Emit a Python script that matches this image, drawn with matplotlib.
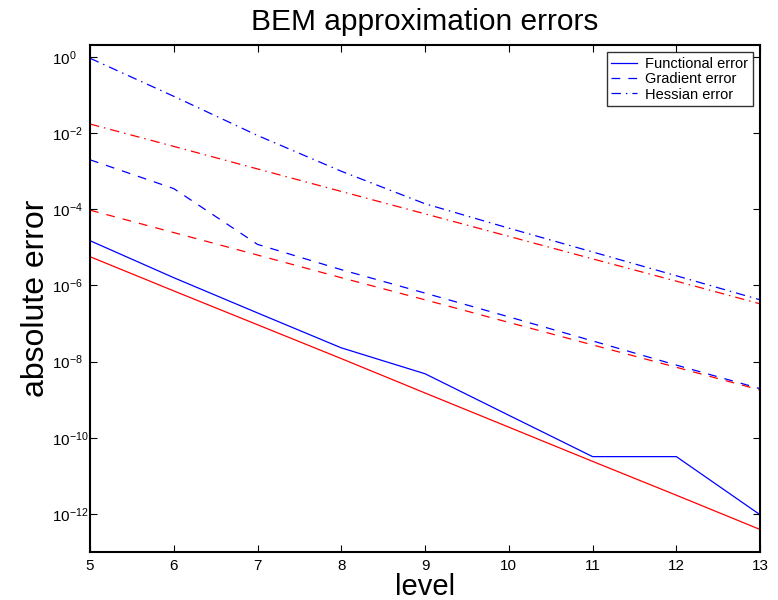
"""BEM approximation errors by refinement level."""

import numpy as np
import matplotlib

matplotlib.use("Agg")
import matplotlib.pyplot as plt

plt.rcParams["font.family"] = ["Liberation Sans", "DejaVu Sans"]

levels = [5, 6, 7, 8, 9, 10, 11, 12, 13]

# computed errors (blue)
func_blue = [1.5e-5, 1.6e-6, 1.9e-7, 2.3e-8, 4.8e-9, 3.9e-10, 3.2e-11, 3.2e-11, 9.5e-13]
grad_blue = [2.0e-3, 3.5e-4, 1.2e-5, 2.6e-6, 6.3e-7, 1.5e-7, 3.5e-8, 8.1e-9, 1.95e-9]
hess_blue = [0.93, 9.3e-2, 8.7e-3, 1.0e-3, 1.4e-4, 3.2e-5, 7.6e-6, 1.8e-6, 4.2e-7]

# estimated errors (red)
func_red = [5.7e-6, 7.2e-7, 9.3e-8, 1.2e-8, 1.5e-9, 1.9e-10, 2.4e-11, 3.1e-12, 3.9e-13]
grad_red = [9.5e-5, 2.45e-5, 6.3e-6, 1.6e-6, 4.2e-7, 1.07e-7, 2.75e-8, 7.1e-9, 1.8e-9]
hess_red = [1.74e-2, 4.5e-3, 1.15e-3, 2.95e-4, 7.6e-5, 1.95e-5, 5.0e-6, 1.3e-6, 3.3e-7]

labels = ["Functional error", "Gradient error", "Hessian error"]

fig = plt.figure(figsize=(7.78, 6.0), dpi=100)
ax = fig.add_axes([0.1157, 0.08, 0.8613, 0.845])

dash = (0, (7, 6.5))
dashdot = (0, (7.5, 4, 1.2, 4))

ax.plot(levels, func_blue, color="blue", linewidth=0.9, label=labels[0])
ax.plot(levels, grad_blue, color="blue", linewidth=0.9, linestyle=dash, label=labels[1])
ax.plot(levels, hess_blue, color="blue", linewidth=0.9, linestyle=dashdot, label=labels[2])
ax.plot(levels, func_red, color="red", linewidth=0.9)
ax.plot(levels, grad_red, color="red", linewidth=0.9, linestyle=dash)
ax.plot(levels, hess_red, color="red", linewidth=0.9, linestyle=dashdot)

ax.set_yscale("log")
ax.set_xlim(5, 13)
ax.set_ylim(1e-13, 2.07)
ax.set_xticks(levels)
ax.set_yticks([1e0, 1e-2, 1e-4, 1e-6, 1e-8, 1e-10, 1e-12])
ax.minorticks_off()
ax.tick_params(direction="in", length=5, width=0.8, top=True, right=True,
               labelsize=11)
ax.tick_params(axis="x", pad=5)
# matlab style: exponent labels start at a common left edge
ax.tick_params(axis="y", pad=27.4)
for lab in ax.get_yticklabels():
    lab.set_horizontalalignment("left")
for sp in ax.spines.values():
    sp.set_linewidth(1.5)

ax.set_title("BEM approximation errors", fontsize=21.5, pad=11)
ax.set_xlabel("level", fontsize=21, labelpad=0)
ax.set_ylabel("absolute error", fontsize=23)
ax.yaxis.set_label_coords(-0.058, 0.5)

leg = ax.legend(loc="upper right", fontsize=10.5, frameon=True, fancybox=False,
                edgecolor="black", handlelength=1.8, borderpad=0.3,
                labelspacing=0.1, borderaxespad=0.5, handletextpad=0.55)
leg.get_frame().set_linewidth(1.0)

plt.savefig("out.png", dpi=100)
plt.close()
